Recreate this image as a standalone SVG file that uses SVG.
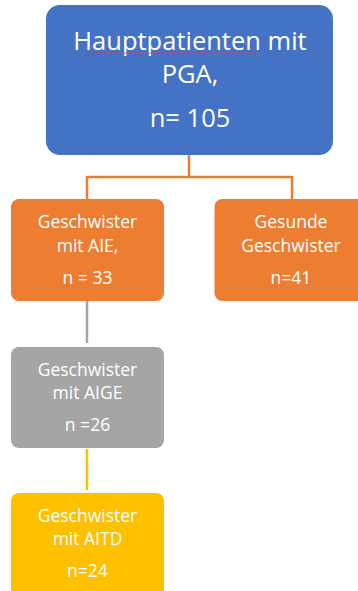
<svg xmlns="http://www.w3.org/2000/svg" width="358" height="591" viewBox="0 0 358 591">
  <style>
    .box-text { font-family: "Open Sans", "Noto Sans", sans-serif; fill: #ffffff; text-anchor: middle; }
    .big { font-size: 25.5px; }
    .small { font-size: 17.5px; }
    .link { fill: none; stroke-width: 2.5; }
  </style>
  <rect width="358" height="591" fill="#ffffff"/>

  <!-- connectors -->
  <g id="connectors">
    <path class="link" stroke="#ED7D31" d="M189 155 V177 M87 177 H292 M87 176 V199 M292 176 V199"/>
    <path class="link" stroke="#A5A5A5" d="M87 301 V343"/>
    <path class="link" stroke="#FFC000" d="M87 449 V490"/>
  </g>

  <g id="hauptpatienten">
    <rect x="46" y="5" width="287" height="150" rx="14" fill="#4472C4"/>
    <text class="box-text big" x="190" y="50">Hauptpatienten mit</text>
    <!-- spell-check squiggle under the first word -->
    <path d="M90 53 q1 -1.2 2 0 t2 0 t2 0 t2 0 t2 0 t2 0 t2 0 t2 0 t2 0 t2 0 t2 0 t2 0 t2 0 t2 0 t2 0 t2 0 t2 0 t2 0 t2 0 t2 0 t2 0 t2 0 t2 0 t2 0 t2 0 t2 0 t2 0 t2 0 t2 0 t2 0 t2 0 t2 0 t2 0 t2 0 t2 0 t2 0 t2 0 t2 0 t2 0 t2 0 t2 0 t2 0 t2 0 t2 0 t2 0 t2 0 t2 0 t2 0 t2 0 t2 0 t2 0 t2 0 t2 0 t2 0 t2 0 t2 0 t2 0 t2 0 t2 0 t2 0 t2 0 t2 0 t2 0 t2 0 t2 0 t2 0 t2 0 t2 0 t2 0 t2 0 t2 0 t2 0 t2 0 t2 0 t2 0 t2 0 t2 0 t2 0 t2 0 t2 0 t2 0 t2 0 t2 0 t2 0 t2 0 t2 0" fill="none" stroke="#E04040" stroke-width="0.8"/>
    <text class="box-text big" x="190" y="83">PGA,</text>
    <text class="box-text big" x="190" y="127">n= 105</text>
  </g>

  <g id="geschwister-aie">
    <rect x="11" y="199" width="153" height="102" rx="8" fill="#ED7D31"/>
    <text class="box-text small" x="87.5" y="228">Geschwister</text>
    <text class="box-text small" x="87.5" y="252">mit AIE,</text>
    <text class="box-text small" x="87.5" y="284">n = 33</text>
  </g>

  <g id="gesunde-geschwister">
    <rect x="214.5" y="199" width="153" height="102" rx="8" fill="#ED7D31"/>
    <text class="box-text small" x="291" y="228">Gesunde</text>
    <text class="box-text small" x="291" y="252">Geschwister</text>
    <text class="box-text small" x="291" y="284">n=41</text>
  </g>

  <g id="geschwister-aige">
    <rect x="11" y="347" width="153" height="101" rx="8" fill="#A5A5A5"/>
    <text class="box-text small" x="87.5" y="376">Geschwister</text>
    <text class="box-text small" x="87.5" y="399">mit AIGE</text>
    <text class="box-text small" x="87.5" y="431">n =26</text>
  </g>

  <g id="geschwister-aitd">
    <rect x="11" y="493" width="153" height="110" rx="8" fill="#FFC000"/>
    <text class="box-text small" x="87.5" y="522">Geschwister</text>
    <text class="box-text small" x="87.5" y="545">mit AITD</text>
    <text class="box-text small" x="87.5" y="577">n=24</text>
  </g>
</svg>
